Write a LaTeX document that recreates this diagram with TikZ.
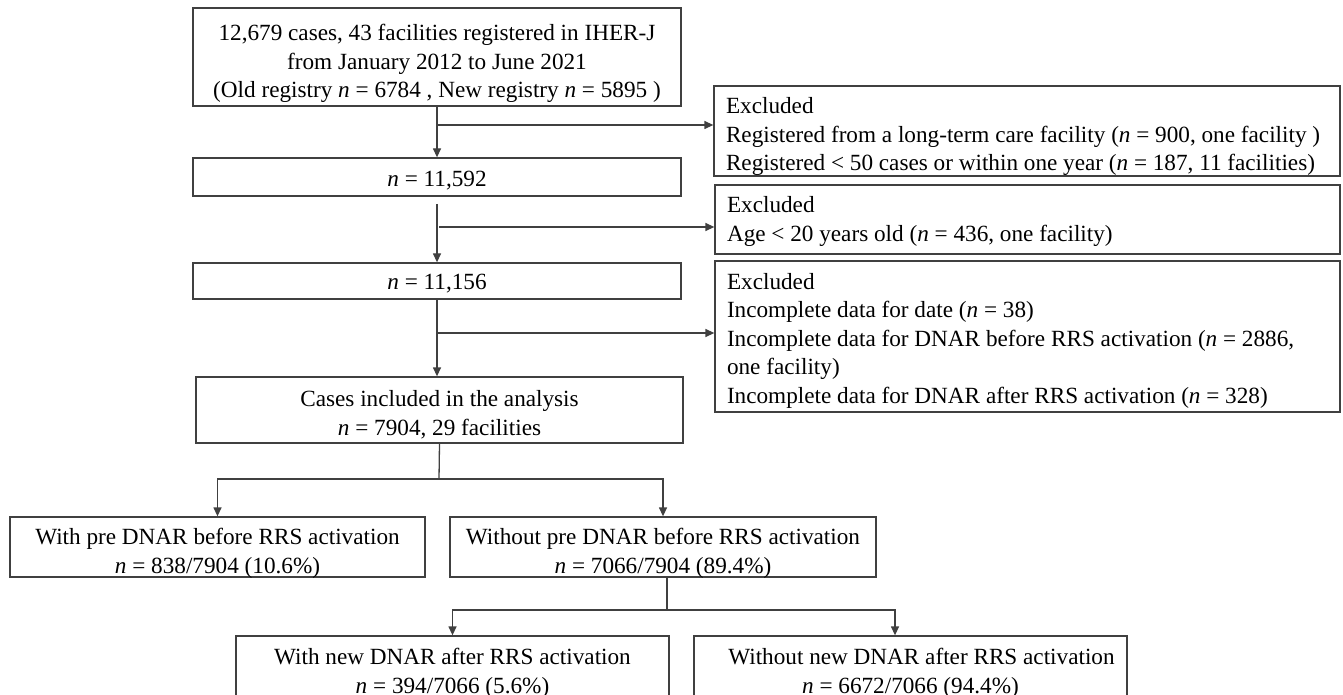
\documentclass[tikz,border=0pt]{standalone}
\usepackage{fontspec}
\setmainfont{Liberation Serif}
\usetikzlibrary{arrows.meta}
\definecolor{ln}{gray}{0.25}
\newcommand{\natsp}{\spaceskip=0pt\xspaceskip=0pt\relax}
\begin{document}
\begin{tikzpicture}[x=0.5pt,y=-0.5pt,
  txt/.style={font=\fontsize{11.6pt}{14.25pt}\selectfont},
  box/.style={txt, draw=ln, line width=0.65pt, inner sep=0pt, align=center},
  exbox/.style={txt, draw=ln, line width=0.65pt, inner xsep=6pt, inner ysep=0pt, text width=301pt, align=left},
  hd/.style 2 args={text height=#1, text depth=#2},
  conn/.style={draw=ln, line width=0.65pt},
  arr/.style={conn, -{Triangle[width=4pt,length=4.5pt]}}
]
\useasboundingbox (0,0) rectangle (1343,695);
\clip (0,0) rectangle (1343,695);

\node[box, minimum width=244pt, hd={45pt}{4pt}] (top) at (437,57)
  {12,679 cases, 43 facilities registered in IHER-J\\from January 2012 to June 2021\\(Old registry \textit{n} = 6784 , New registry \textit{n} = 5895 )};
\node[box, minimum width=244pt, hd={14.5pt}{4.5pt}] (n1) at (437,177) {\textit{n} = 11,592};
\node[box, minimum width=244pt, hd={13pt}{5pt}] (n2) at (437,281) {\textit{n} = 11,156};
\node[box, minimum width=243.5pt, hd={29pt}{4pt}] (inc) at (439.5,410)
  {Cases included in the analysis\\\textit{n} = 7904, 29 facilities};
\node[box, minimum width=207.5pt, hd={28pt}{2pt}] (pre) at (217.5,547)
  {With pre DNAR before RRS activation\\\textit{n} = 838/7904 (10.6\%)};
\node[box, minimum width=213pt, hd={28pt}{2pt}] (nopre) at (663,547)
  {Without pre DNAR before RRS activation\\\textit{n} = 7066/7904 (89.4\%)};
\node[box, minimum width=216.5pt, hd={28.5pt}{2pt}] (new) at (452.5,666.5)
  {With new DNAR after RRS activation\\\textit{n} = 394/7066 (5.6\%)};
\node[box, minimum width=216.5pt, hd={28.5pt}{2pt}] (nonew) at (910.5,666.5)
  {\hspace*{11pt}Without new DNAR after RRS activation\\\textit{n} = 6672/7066 (94.4\%)};

\node[exbox, hd={14pt}{31pt}] (ex1) at (1027,131)
  {\natsp\mbox{Excluded}\\\mbox{Registered from a long-term care facility (\textit{n} = 900, one facility )}\\\mbox{Registered < 50 cases or within one year (\textit{n} = 187, 11 facilities)}};
\node[exbox, text width=300.5pt, hd={14pt}{20.5pt}] (ex2) at (1027.5,219.5)
  {\natsp\mbox{Excluded}\\\mbox{Age < 20 years old (\textit{n} = 436, one facility)}};
\node[exbox, text width=300.5pt, hd={14pt}{61.5pt}] (ex3) at (1027.5,336.5)
  {\natsp\mbox{Excluded}\\\mbox{Incomplete data for date (\textit{n} = 38)}\\\mbox{Incomplete data for DNAR before RRS activation (\textit{n} = 2886,}\\\mbox{one facility)}\\\mbox{Incomplete data for DNAR after RRS activation (\textit{n} = 328)}};

\coordinate (j1) at (437,125);
\coordinate (s2) at (437,204);
\coordinate (j2) at (439,227);
\coordinate (j3) at (437,333);
\coordinate (b1) at (439,479);
\coordinate (b2) at (667,610);
\coordinate (b3) at (895,610);

\draw[arr] (top.south) -- (n1.north);
\draw[arr] (j1) -- (j1 -| ex1.west);
\draw[arr] (s2) -- (n2.north);
\draw[arr] (j2) -- (j2 -| ex2.west);
\draw[arr] (n2.south) -- (n2.south |- inc.north);
\draw[arr] (j3) -- (j3 -| ex3.west);
\draw[conn] (inc.south) -- (b1);
\draw[arr] (b1) -| (pre.north);
\draw[arr] (b1) -| (nopre.north);
\draw[conn] (nopre.south -| b2) -- (b2);
\draw[arr] (b2) -| (new.north);
\draw[arr] (b2) -- (b3) -- (b3 |- nonew.north);
\end{tikzpicture}
\end{document}
